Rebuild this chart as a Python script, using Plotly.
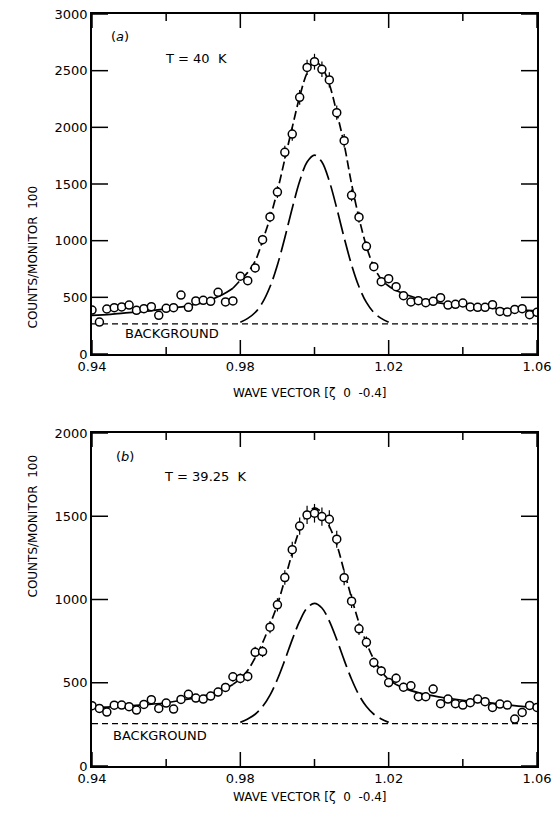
import plotly.graph_objects as go

# ---------------- data ----------------
wave_vector = [0.940, 0.942, 0.944, 0.946, 0.948, 0.950, 0.952, 0.954, 0.956, 0.958,
               0.960, 0.962, 0.964, 0.966, 0.968, 0.970, 0.972, 0.974, 0.976, 0.978,
               0.980, 0.982, 0.984, 0.986, 0.988, 0.990, 0.992, 0.994, 0.996, 0.998,
               1.000, 1.002, 1.004, 1.006, 1.008, 1.010, 1.012, 1.014, 1.016, 1.018,
               1.020, 1.022, 1.024, 1.026, 1.028, 1.030, 1.032, 1.034, 1.036, 1.038,
               1.040, 1.042, 1.044, 1.046, 1.048, 1.050, 1.052, 1.054, 1.056, 1.058,
               1.060]

counts_a = [388, 282, 397, 409, 415, 432, 385, 400, 418, 341,
            403, 409, 520, 412, 468, 474, 465, 544, 459, 468,
            686, 647, 759, 1009, 1209, 1429, 1780, 1941, 2265, 2529,
            2579, 2512, 2418, 2129, 1882, 1400, 1207, 950, 770, 638,
            665, 594, 515, 459, 470, 453, 465, 497, 432, 438,
            450, 415, 412, 412, 435, 376, 370, 393, 400, 347,
            368]
err_a = [28, 25, 28, 28, 28, 29, 28, 28, 28, 27,
         28, 28, 31, 28, 30, 30, 30, 32, 30, 30,
         35, 34, 37, 42, 46, 52, 58, 60, 65, 68,
         70, 68, 67, 63, 59, 52, 48, 42, 38, 35,
         36, 34, 32, 30, 30, 30, 30, 31, 29, 29,
         30, 28, 28, 28, 29, 27, 27, 28, 28, 26,
         27]

counts_b = [362, 346, 324, 365, 366, 356, 336, 370, 398, 346,
            378, 342, 400, 431, 408, 402, 420, 444, 472, 536,
            526, 538, 683, 687, 834, 968, 1132, 1299, 1441, 1508,
            1518, 1498, 1482, 1362, 1131, 990, 824, 743, 621, 571,
            501, 527, 473, 482, 416, 416, 462, 374, 402, 374,
            366, 380, 402, 386, 352, 372, 366, 282, 322, 364,
            352]
err_b = [24, 23, 22, 24, 24, 24, 23, 24, 25, 23,
         24, 23, 25, 26, 25, 25, 26, 26, 27, 29,
         29, 29, 33, 33, 37, 40, 44, 48, 52, 55,
         56, 55, 54, 51, 45, 41, 37, 35, 31, 30,
         28, 29, 27, 27, 25, 25, 27, 24, 25, 24,
         24, 24, 25, 24, 23, 24, 24, 21, 22, 24,
         23]

# total fit curve: wings (solid) and central part (dashed)
fit_x_left = [0.940, 0.945, 0.950, 0.955, 0.960, 0.965, 0.970, 0.975, 0.978]
fit_a_left = [340, 350, 365, 378, 398, 420, 455, 520, 580]
fit_x_mid = [0.978, 0.980, 0.982, 0.984, 0.986, 0.988, 0.990, 0.992, 0.994, 0.996,
             0.998, 1.000, 1.002, 1.004, 1.006, 1.008, 1.010, 1.012, 1.014, 1.016,
             1.018, 1.020, 1.022]
fit_a_mid = [580, 650, 720, 820, 1000, 1200, 1440, 1720, 2000, 2270,
             2480, 2580, 2530, 2380, 2130, 1850, 1500, 1200, 950, 770,
             660, 600, 560]
fit_x_right = [1.022, 1.025, 1.030, 1.035, 1.040, 1.045, 1.050, 1.055, 1.060]
fit_a_right = [560, 520, 470, 445, 430, 415, 400, 390, 380]

fit_b_left = [350, 355, 362, 370, 380, 398, 420, 455, 490]
fit_b_mid = [490, 525, 575, 650, 740, 850, 970, 1120, 1280, 1420,
             1510, 1550, 1520, 1440, 1330, 1170, 1010, 860, 740, 640,
             570, 520, 490]
fit_b_right = [490, 460, 430, 410, 395, 385, 372, 360, 350]

# Gaussian component (long dashes)
gauss_x = [0.980, 0.982, 0.984, 0.986, 0.988, 0.990, 0.992, 0.994, 0.996, 0.998,
           1.000, 1.002, 1.004, 1.006, 1.008, 1.010, 1.012, 1.014, 1.016, 1.018,
           1.020]
gauss_a = [280, 314, 366, 455, 593, 786, 1026, 1286, 1524, 1694,
           1755, 1694, 1524, 1286, 1026, 786, 593, 455, 366, 314,
           280]
gauss_b = [262, 283, 311, 357, 426, 521, 636, 759, 870, 949,
           977, 949, 870, 759, 636, 521, 426, 357, 311, 283,
           262]

background_x = [0.940, 1.060]
background_a = [265, 265]
background_b = [255, 255]

# ticks
y_ticks_a = [0, 500, 1000, 1500, 2000, 2500, 3000]
y_ticks_b = [0, 500, 1000, 1500, 2000]
x_major_ticks = [0.94, 0.98, 1.02, 1.06]
x_minor_ticks = [0.96, 1.00, 1.04]

# ---------------- figure ----------------
FONT = "DejaVu Sans"
NB = "\u00a0"
X_RANGE = [0.94, 1.06]
YA_RANGE = [0, 3000]
YB_RANGE = [0, 2000]
PLOT_W = 445          # plot-area width in px
H_A, H_B = 340, 333   # plot-area heights in px
fig = go.Figure()


def add_ticks(xa, ya, yrange, hpx, yticks):
    """Inside, mirrored tick marks drawn on the axes' own scales."""
    tx, ty = [], []
    x_span = X_RANGE[1] - X_RANGE[0]
    y_span = yrange[1] - yrange[0]
    ylen = 16 * x_span / PLOT_W
    for v in yticks:
        tx += [X_RANGE[0], X_RANGE[0] + ylen, None, X_RANGE[1] - ylen, X_RANGE[1], None]
        ty += [v, v, None, v, v, None]
    for vals, plen in [(x_major_ticks, 14), (x_minor_ticks, 7)]:
        xlen = plen * y_span / hpx
        for v in vals:
            tx += [v, v, None, v, v, None]
            ty += [yrange[0], yrange[0] + xlen, None, yrange[1] - xlen, yrange[1], None]
    fig.add_trace(go.Scatter(x=tx, y=ty, mode="lines", xaxis=xa, yaxis=ya,
                             hoverinfo="skip", cliponaxis=False,
                             line=dict(color="black", width=1.5)))


def add_panel(xa, ya, counts, err, fl, fm, fr, gauss, bg):
    lw = 1.7
    fig.add_trace(go.Scatter(x=background_x, y=bg, mode="lines", xaxis=xa, yaxis=ya,
                             line=dict(color="black", width=1.3, dash="6px,4px")))
    fig.add_trace(go.Scatter(x=gauss_x, y=gauss, mode="lines", xaxis=xa, yaxis=ya,
                             line=dict(color="black", width=lw, dash="22px,6px", shape="spline")))
    fig.add_trace(go.Scatter(x=fit_x_left, y=fl, mode="lines", xaxis=xa, yaxis=ya,
                             line=dict(color="black", width=lw, shape="spline")))
    fig.add_trace(go.Scatter(x=fit_x_mid, y=fm, mode="lines", xaxis=xa, yaxis=ya,
                             line=dict(color="black", width=lw, dash="9px,4px", shape="spline")))
    fig.add_trace(go.Scatter(x=fit_x_right, y=fr, mode="lines", xaxis=xa, yaxis=ya,
                             line=dict(color="black", width=lw, shape="spline")))
    fig.add_trace(go.Scatter(x=wave_vector, y=counts, mode="markers", xaxis=xa, yaxis=ya,
                             error_y=dict(type="data", array=err, color="black",
                                          thickness=1.2, width=0),
                             marker=dict(symbol="circle", size=8, color="white",
                                         line=dict(color="black", width=1.5))))


add_ticks("x", "y", YA_RANGE, H_A, y_ticks_a)
add_ticks("x2", "y2", YB_RANGE, H_B, y_ticks_b)
add_panel("x", "y", counts_a, err_a, fit_a_left, fit_a_mid, fit_a_right, gauss_a, background_a)
add_panel("x2", "y2", counts_b, err_b, fit_b_left, fit_b_mid, fit_b_right, gauss_b, background_b)

xaxis_common = dict(range=X_RANGE, tickmode="array", tickvals=x_major_ticks,
                    ticktext=["%.2f" % v for v in x_major_ticks],
                    showline=True, linecolor="black", linewidth=1.5, mirror=True,
                    showgrid=False, zeroline=False,
                    tickfont=dict(family=FONT, size=13, color="black"))
yaxis_common = dict(showline=True, linecolor="black", linewidth=1.5, mirror=True,
                    showgrid=False, zeroline=False, ticksuffix=NB * 4,
                    tickfont=dict(family=FONT, size=13, color="black"))

top_lo = (766 - 354) / 752
bot_hi = (766 - 433) / 752

fig.update_layout(
    width=558, height=814,
    margin=dict(l=92, r=21, t=14, b=48, autoexpand=False),
    paper_bgcolor="white", plot_bgcolor="white",
    showlegend=False,
    xaxis=dict(domain=[0, 1], anchor="y", **xaxis_common),
    yaxis=dict(domain=[top_lo, 1], anchor="x", range=YA_RANGE, tickmode="array",
               tickvals=y_ticks_a, **yaxis_common),
    xaxis2=dict(domain=[0, 1], anchor="y2", **xaxis_common),
    yaxis2=dict(domain=[0, bot_hi], anchor="x2", range=YB_RANGE, tickmode="array",
                tickvals=y_ticks_b, **yaxis_common),
)

tf = dict(family=FONT, size=13, color="black")
tfy = dict(family=FONT, size=12, color="black")
xtitle = "WAVE" + NB + "VECTOR" + NB + "[ζ" + NB * 2 + "0" + NB * 2 + "-0.4]"
ytitle = "COUNTS/MONITOR" + NB * 2 + "100"
ann = [
    dict(x=0.9475, y=2800, xref="x", yref="y", text="(<i>a</i>)", showarrow=False, font=tf),
    dict(x=0.968, y=2610, xref="x", yref="y", text="T" + NB + "=" + NB + "40" + NB * 2 + "K",
         showarrow=False, font=tf),
    dict(x=0.9615, y=182, xref="x", yref="y", text="BACKGROUND", showarrow=False, font=tf),
    dict(x=0.949, y=1857, xref="x2", yref="y2", text="(<i>b</i>)", showarrow=False, font=tf),
    dict(x=0.9705, y=1737, xref="x2", yref="y2",
         text="T" + NB + "=" + NB + "39.25" + NB * 2 + "K", showarrow=False, font=tf),
    dict(x=0.9583, y=182, xref="x2", yref="y2", text="BACKGROUND", showarrow=False, font=tf),
    dict(x=0.49, y=(766 - 393) / 752, xref="paper", yref="paper",
         text=xtitle, showarrow=False, font=tfy),
    dict(x=0.49, y=(766 - 806) / 752, xref="paper", yref="paper",
         text=xtitle, showarrow=False, font=tfy),
    dict(x=(23 - 92) / 445, y=(766 - 184) / 752, xref="paper", yref="paper",
         text=ytitle, textangle=-90, showarrow=False, font=tfy),
    dict(x=(23 - 92) / 445, y=(766 - 600) / 752, xref="paper", yref="paper",
         text=ytitle, textangle=-90, showarrow=False, font=tfy),
]
fig.update_layout(annotations=ann)

fig.write_html("out.html", config={"displayModeBar": False},
               post_script="document.body.style.margin='0';document.body.style.overflow='hidden';")
